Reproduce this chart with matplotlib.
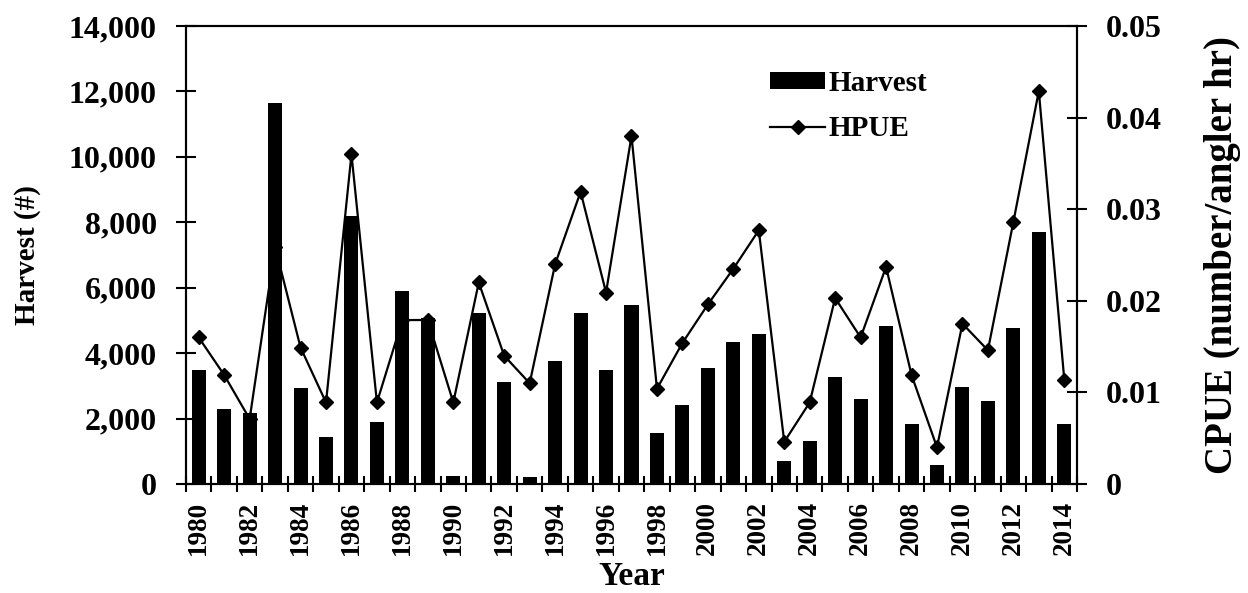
import matplotlib
matplotlib.use("Agg")
import matplotlib.pyplot as plt
from matplotlib.ticker import FuncFormatter, FixedLocator
import numpy as np

years = list(range(1980, 2015))
harvest = [3500, 2290, 2180, 11650, 2930, 1450, 8180, 1880, 5910, 5070,
           245, 5220, 3130, 200, 3770, 5220, 3470, 5460, 1550, 2400,
           3540, 4340, 4580, 710, 1320, 3270, 2600, 4820, 1830, 580,
           2980, 2540, 4770, 7700, 1830]
hpue = [0.0160, 0.0119, 0.0071, 0.0259, 0.0149, 0.0089, 0.0360, 0.0089, 0.0179, 0.0179,
        0.0089, 0.0220, 0.0140, 0.0110, 0.0240, 0.0319, 0.0209, 0.0380, 0.0104, 0.0154,
        0.0196, 0.0235, 0.0277, 0.0046, 0.0089, 0.0203, 0.0160, 0.0237, 0.0119, 0.0040,
        0.0175, 0.0146, 0.0286, 0.0429, 0.0114]
year_labels = [str(y) for y in range(1980, 2015, 2)]

plt.rcParams['font.family'] = ['Liberation Serif', 'DejaVu Serif']
plt.rcParams['font.weight'] = 'bold'

fig = plt.figure(figsize=(12.48, 5.93), dpi=100)
ax = fig.add_axes([186/1248, 1-484/593, (1077-186)/1248, (484-26)/593])
ax2 = ax.twinx()

ax.bar(years, harvest, width=0.55, color='black', label='Harvest', zorder=2)
ax2.plot(years, hpue, color='black', lw=1.6, marker='D', ms=7.5, label='HPUE')

ax.set_xlim(1979.5, 2014.5)
ax.set_ylim(0, 14000)
ax2.set_ylim(0, 0.05)

ax.set_yticks(np.arange(0, 14001, 2000))
ax.yaxis.set_major_formatter(FuncFormatter(lambda v, p: f"{int(v):,}"))
ax2.set_yticks([0, 0.01, 0.02, 0.03, 0.04, 0.05])
ax2.set_yticklabels(['0', '0.01', '0.02', '0.03', '0.04', '0.05'])

ax.xaxis.set_major_locator(FixedLocator(list(range(1980, 2015, 2))))
ax.set_xticklabels(year_labels, rotation=90, fontsize=19.5, fontweight='bold')
ax.xaxis.set_minor_locator(FixedLocator([y + 0.5 for y in range(1979, 2015)]))
ax.tick_params(axis='x', which='major', length=0, pad=12)
ax.tick_params(axis='x', which='minor', direction='inout', length=11, width=1.5)
ax.tick_params(axis='y', direction='inout', length=14, width=1.5, labelsize=23, pad=14)
ax2.tick_params(axis='y', direction='inout', length=14, width=1.5, labelsize=23, pad=14)

for a in (ax, ax2):
    for s in a.spines.values():
        s.set_linewidth(1.5)

ax.set_xlabel('Year', fontsize=24, fontweight='bold', labelpad=4)
ax.set_ylabel('Harvest (#)', fontsize=21, fontweight='bold', labelpad=20)
ax2.set_ylabel('CPUE (number/angler hr)', fontsize=28, fontweight='bold', labelpad=30)

h1, l1 = ax.get_legend_handles_labels()
h2, l2 = ax2.get_legend_handles_labels()
leg = ax2.legend(h1 + h2, l1 + l2, loc='upper left',
                 bbox_to_anchor=(770/1248, 1-70/593), bbox_transform=fig.transFigure,
                 frameon=False, fontsize=21, handlelength=1.9, handleheight=0.5,
                 handletextpad=0.1, labelspacing=0.62, borderpad=0, borderaxespad=0)

fig.savefig('out.png', dpi=100)
